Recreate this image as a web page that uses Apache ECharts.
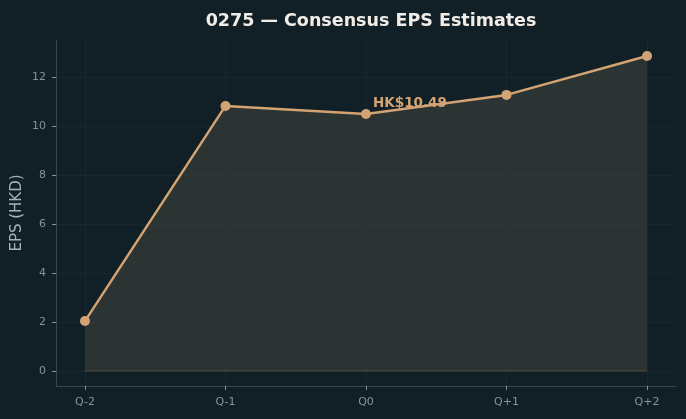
<!DOCTYPE html>
<html>
<head>
<meta charset="utf-8">
<script src="https://cdn.jsdelivr.net/npm/echarts@6/dist/echarts.min.js"></script>
<style>
  html, body { margin: 0; padding: 0; background: #112027; }
  #chart { width: 686px; height: 419px; }
</style>
</head>
<body>
<div id="chart"></div>
<script>
// 季度标签与一致预期 EPS（港元）
const quarters = ['Q-2', 'Q-1', 'Q0', 'Q+1', 'Q+2']
const epsValues = [2.04, 10.82, 10.49, 11.27, 12.86]
const yTicks = [0, 2, 4, 6, 8, 10, 12]
const highlightIndex = 2
const highlightText = 'HK$10.49'

const lineColor = '#d4a373'
const textColor = '#8a9397'
const spineColor = '#3b464b'
const gridColor = '#18262d'

const xTicks = quarters.map((q, i) => i)
const seriesData = epsValues.map((v, i) => [i, v])
const baseline = [[0, 0], [quarters.length - 1, 0]]

const chart = echarts.init(document.getElementById('chart'), null, { renderer: 'canvas' })

const option = {
  backgroundColor: '#112027',
  animation: false,
  title: {
    text: '0275 — Consensus EPS Estimates',
    left: 366,
    top: 7,
    textAlign: 'center',
    textStyle: {
      color: '#f1ede6',
      fontSize: 17.5,
      fontWeight: 'bold',
      fontFamily: 'DejaVu Sans'
    }
  },
  grid: { left: 56, right: 10, top: 40, bottom: 33, containLabel: false, outerBoundsMode: 'none' },
  xAxis: {
    type: 'value',
    min: -0.206,
    max: 4.206,
    axisLine: { show: true, onZero: false, lineStyle: { color: spineColor, width: 1 } },
    axisTick: { show: true, customValues: xTicks, length: 4, lineStyle: { color: textColor } },
    axisLabel: {
      customValues: xTicks,
      margin: 11,
      color: textColor,
      fontSize: 11,
      fontFamily: 'DejaVu Sans',
      formatter: v => quarters[Math.round(v)] || ''
    },
    splitLine: { show: true, customValues: xTicks, lineStyle: { color: gridColor, width: 1 } }
  },
  yAxis: {
    type: 'value',
    min: -0.61,
    max: 13.51,
    name: 'EPS (HKD)',
    nameLocation: 'middle',
    nameGap: 31,
    nameMoveOverlap: false,
    nameTextStyle: { color: '#a9b1b3', fontSize: 15, fontFamily: 'DejaVu Sans' },
    axisLine: { show: true, onZero: false, lineStyle: { color: spineColor, width: 1 } },
    axisTick: { show: true, customValues: yTicks, length: 4, lineStyle: { color: textColor } },
    axisLabel: {
      customValues: yTicks,
      margin: 10,
      color: textColor,
      fontSize: 11,
      fontFamily: 'DejaVu Sans'
    },
    splitLine: { show: true, customValues: yTicks, lineStyle: { color: gridColor, width: 1 } }
  },
  series: [
    {
      // 填充区域底边
      type: 'line',
      data: baseline,
      symbol: 'none',
      silent: true,
      lineStyle: { color: '#3b3c35', width: 1.5 },
      z: 1
    },
    {
      name: 'EPS',
      type: 'line',
      data: seriesData,
      symbol: 'circle',
      symbolSize: 10,
      itemStyle: { color: lineColor },
      lineStyle: { color: lineColor, width: 2.5 },
      areaStyle: { color: 'rgba(84, 78, 68, 0.6)', origin: 0 },
      label: {
        show: true,
        position: 'right',
        distance: 2,
        offset: [0, -11],
        color: lineColor,
        fontSize: 13.5,
        fontWeight: 'bold',
        fontFamily: 'DejaVu Sans',
        formatter: p => (p.dataIndex === highlightIndex ? highlightText : '')
      },
      z: 3
    }
  ]
}

chart.setOption(option)
</script>
</body>
</html>
